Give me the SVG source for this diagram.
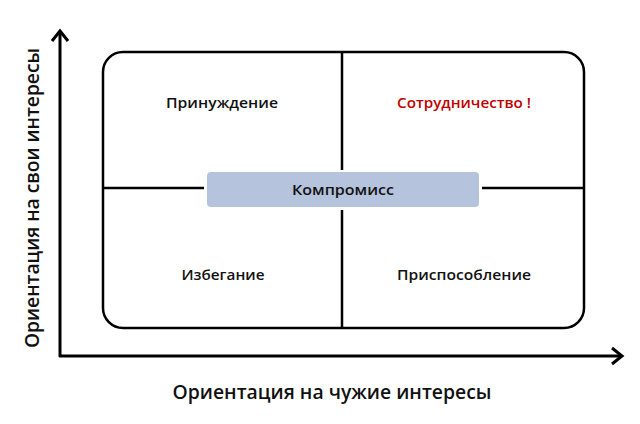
<svg xmlns="http://www.w3.org/2000/svg" width="640" height="424" viewBox="0 0 640 424">
<style>
.ln{stroke:#000;stroke-width:2.5;fill:none}
.ax{stroke:#000;stroke-width:3;fill:none}
.t{font-family:"Open Sans","Liberation Sans",sans-serif;font-size:14.5px;font-weight:600;fill:#111;text-anchor:middle}
.big{font-family:"Open Sans","Liberation Sans",sans-serif;font-size:19px;font-weight:600;fill:#111;text-anchor:middle}
</style>
<rect width="640" height="424" fill="#fff"/>
<g id="axes">
<line class="ax" x1="60" y1="357" x2="60" y2="32"/>
<polyline class="ax" points="52,41 60,31 68,41"/>
<line class="ax" x1="59" y1="356" x2="622" y2="356"/>
<polyline class="ax" points="612,348 622,356 612,364"/>
</g>
<g id="grid">
<rect class="ln" x="103" y="52" width="481" height="276" rx="20"/>
<line class="ln" x1="342" y1="52" x2="342" y2="170"/>
<line class="ln" x1="342" y1="210" x2="342" y2="328"/>
<line class="ln" x1="103" y1="188" x2="204" y2="188"/>
<line class="ln" x1="482" y1="188" x2="584" y2="188"/>
</g>
<g id="kompromiss">
<rect x="207" y="172" width="272" height="35" rx="4" fill="#b5c4dc"/>
<text class="t" x="343" y="195" textLength="102" lengthAdjust="spacingAndGlyphs">Компромисс</text>
</g>
<g id="prinuzhdenie"><text class="t" x="222" y="108" textLength="112" lengthAdjust="spacingAndGlyphs">Принуждение</text></g>
<g id="sotrudnichestvo"><text class="t" x="464" y="108" textLength="134" lengthAdjust="spacingAndGlyphs" style="fill:#c00000">Сотрудничество !</text></g>
<g id="izbeganie"><text class="t" x="223" y="280" textLength="83" lengthAdjust="spacingAndGlyphs">Избегание</text></g>
<g id="prisposoblenie"><text class="t" x="464" y="280" textLength="134" lengthAdjust="spacingAndGlyphs">Приспособление</text></g>
<g id="labels">
<text class="big" x="332" y="399" textLength="319" lengthAdjust="spacingAndGlyphs">Ориентация на чужие интересы</text>
<text class="big" transform="translate(39,198) rotate(-90)" textLength="300" lengthAdjust="spacingAndGlyphs">Ориентация на свои интересы</text>
</g>
</svg>
